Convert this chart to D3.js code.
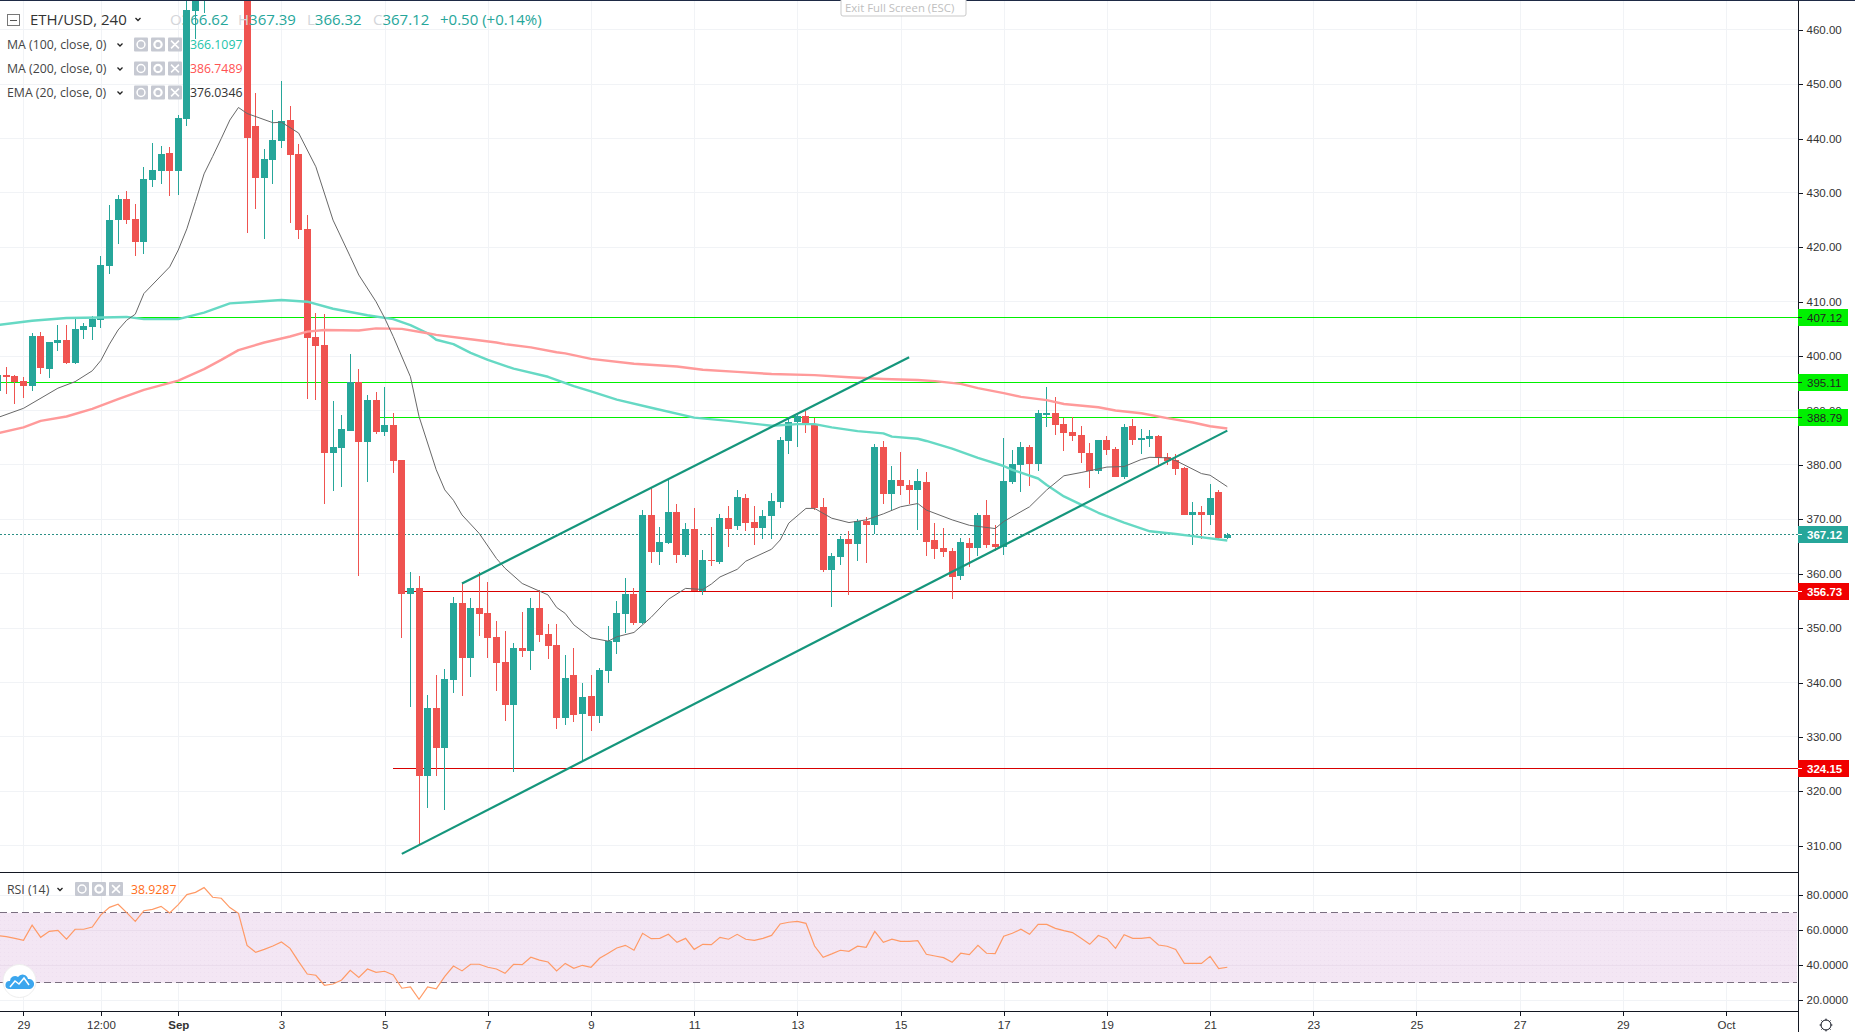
<!DOCTYPE html>
<html><head><meta charset="utf-8">
<script src="https://cdn.jsdelivr.net/npm/d3@7/dist/d3.min.js"></script>
<style>
html,body{margin:0;padding:0;background:#fff;overflow:hidden}
svg{display:block}
text{font-family:"Liberation Sans",Arial,sans-serif}
.lg{font-family:"Open Sans","DejaVu Sans",sans-serif}
</style></head><body>
<svg id="c" width="1855" height="1032"></svg>
<script>
const open=[393.6,396.5,396.3,395.4,394.5,403.7,397.6,402.4,403.0,398.7,
404.8,405.3,406.6,416.6,425.0,428.9,425.2,421.0,432.4,434.0,
437.3,434.0,443.6,463.4,469,473,476,479,477,472,
442.3,432.7,436.1,439.6,443.4,437.2,423.4,403.5,402.1,382.2,
383.1,386.2,395.2,384.2,391.9,386.0,387.3,380.9,356.3,357.4,
322.8,335.3,328.0,340.4,354.6,344.5,353.7,352.8,348.4,343.8,
335.9,346.3,345.8,353.7,348.9,346.9,333.5,341.4,334.2,337.5,
333.8,342.1,347.5,352.6,356.3,351.0,370.8,364.0,365.6,371.3,
363.4,368.2,356.8,362.5,362.2,370.2,368.8,373.9,369.5,368.4,
370.6,373.2,384.4,387.9,389.0,387.5,372.3,360.7,363.1,366.4,
365.5,369.7,369.0,383.3,374.6,377.2,376.3,375.4,376.8,366.2,
364.7,364.2,359.6,365.6,364.7,370.8,365.5,364.9,376.9,380.0,
383.3,380.2,389.2,389.5,387.5,386.0,385.5,382.2,378.9,384.6,
382.9,377.8,387.1,384.6,384.8,385.3,381.5,380.9,379.4,370.8,
371.3,370.8,375.0,366.62];
const high=[397.5,398.0,396.5,396.1,404.2,404.4,402.6,405.7,405.7,407.1,
406.1,407.3,418.4,427.8,429.6,430.4,428.0,434.8,439.2,438.6,
438.5,444.3,468,472,475,478,482,483,480,474,
448.4,438.1,445.2,450.6,446.0,439.0,425.9,407.9,407.8,391.7,
389.2,400.4,397.6,392.8,393.4,394.3,389.5,380.9,360.3,359.6,
337.7,341.4,342.5,355.7,358.5,355.5,360.3,358.5,351.3,349.5,
347.3,353.0,355.5,357.0,350.8,350.8,345.1,346.3,339.9,341.4,
342.7,350.4,355.0,359.2,357.4,371.7,376.0,368.6,377.4,372.8,
369.3,372.1,364.4,368.6,371.0,372.4,375.4,374.7,372.4,371.7,
374.8,385.1,388.4,389.5,389.9,388.6,373.9,363.8,366.9,367.9,
370.1,370.4,383.8,384.4,379.8,382.4,377.2,379.2,378.7,369.3,
368.4,364.7,366.6,366.5,371.2,373.5,369.0,384.9,382.7,384.2,
383.6,390.1,394.3,392.5,388.6,388.8,387.1,384.0,384.6,385.3,
383.3,387.5,388.4,386.6,386.4,385.5,382.2,382.0,379.6,373.2,
372.4,376.5,375.4,367.39];
const low=[393.0,393.0,391.2,392.3,393.6,396.7,396.0,400.9,398.5,398.5,
403.1,403.0,405.2,415.1,420.6,424.3,418.4,418.8,431.1,431.6,
429.4,429.6,442.3,458.3,463.0,470,473,475,471,422.6,
427.0,421.5,431.6,438.3,424.5,421.5,392.1,391.9,372.8,375.2,
375.9,386.2,359.6,376.8,385.7,385.3,378.5,348.2,335.5,310.1,
316.9,322.8,316.6,338.1,337.5,341.0,348.6,344.5,338.4,332.9,
323.6,344.7,342.3,347.4,344.3,331.5,332.2,332.8,325.6,331.1,
332.6,339.9,345.2,349.1,350.6,350.8,362.0,361.6,365.5,362.0,
363.1,356.8,356.1,361.4,361.8,364.9,368.0,367.9,365.3,366.4,
366.4,372.1,382.0,383.3,385.9,371.7,360.3,353.9,361.6,356.1,
362.3,362.0,367.3,372.8,371.7,374.5,372.8,368.0,363.2,362.7,
363.1,355.3,358.8,361.2,363.2,364.7,364.2,363.4,376.5,375.0,
376.1,378.9,387.0,385.5,382.5,384.4,380.3,375.7,378.3,381.8,
377.8,377.4,383.6,382.0,383.3,379.8,380.0,378.1,370.8,365.3,
366.4,369.0,366.4,366.32];
const close=[396.5,396.1,395.2,394.5,403.7,397.8,402.6,403.0,398.7,405.0,
405.5,406.8,416.7,425.0,428.9,425.0,421.0,432.6,434.2,437.2,
434.0,443.8,463.6,469,473,476,479,477,474,440.1,
432.7,436.2,439.7,443.2,437.0,423.2,403.3,401.9,382.2,383.3,
386.6,395.2,384.2,391.9,386.0,387.3,380.7,356.3,357.4,322.8,
335.3,328.0,340.6,354.6,344.5,353.7,352.6,348.2,343.6,335.9,
346.3,345.8,353.7,348.7,346.7,333.5,340.8,334.0,337.3,333.8,
342.3,347.6,352.8,356.3,351.0,370.8,364.0,365.8,371.3,363.4,
368.2,356.8,362.5,362.3,370.2,368.2,374.1,369.3,368.4,370.6,
373.4,384.6,387.9,389.0,387.5,372.1,360.7,363.3,366.4,365.5,
369.7,369.0,383.3,374.6,377.2,376.1,375.4,377.0,365.8,364.5,
364.0,359.4,365.8,364.7,370.8,365.3,364.9,377.0,380.2,383.3,
380.2,389.5,389.5,387.3,385.9,385.3,382.2,378.9,384.6,382.7,
377.8,387.0,384.6,384.9,385.3,381.3,380.7,379.2,370.8,371.3,
370.8,373.9,366.6,367.12];

const ma100Bars=[0,4,8,12,15,17,21,24,27,30,33,36,39,41,43,46,48,50,51,53,
55,57,60,64,67,69,72,76,81,85,90,93,95,97,100,103,104,107,108,111,114,117,118,121,122,124,126,128,131,134,137,139,143];
const ma100=[405.7,406.5,407.0,407.1,407.2,406.8,406.8,408.0,409.7,410.0,410.3,410.0,408.7,408.1,407.5,406.8,405.7,404.2,403.0,402.2,
400.6,399.3,397.7,396.2,394.5,393.5,392.0,390.5,388.7,388.1,387.2,387.5,387.5,386.9,386.2,385.8,385.2,384.8,384.4,383.0,381.3,379.8,379.1,377.5,376.3,374.2,372.7,371.2,369.4,367.8,367.3,366.9,366.1];
const ma200Bars=[0,3,5,8,11,14,17,21,24,26,28,31,34,36,38,42,44,47,50,51,
55,58,59,62,65,66,69,74,79,82,86,90,95,99,103,107,109,112,114,117,119,122,124,128,130,133,136,139,141,143];
const ma200=[385.8,386.9,388.1,388.9,390.3,392.1,393.8,395.5,397.6,399.3,401.1,402.5,403.6,404.5,404.8,404.7,405.1,405.0,404.2,403.9,
403.1,402.5,402.2,401.6,400.7,400.5,399.5,398.6,398.1,397.5,397.1,396.7,396.5,396.1,395.8,395.6,395.4,394.9,394.1,393.2,392.5,391.9,391.2,390.6,390.0,389.5,388.6,387.8,387.1,386.7];
const emaBars=[0,3,7,9,11,12,13,14,15,16,17,20,21,22,23,24,25,26,27,28,29,32,33,35,37,39,41,42,44,45,46,48,49,51,52,53,54,
56,58,59,61,64,65,66,67,69,71,72,74,76,78,80,82,83,84,86,87,90,91,92,94,95,97,99,101,103,105,107,108,111,113,116,117,119,120,122,124,126,129,131,133,134,136,137,140,141,143];
const ema=[388.7,390.4,394.1,395.3,397.3,399.2,402.2,404.8,406.6,407.7,411.5,416.4,419.5,423.4,428.4,433.5,436.7,440.0,443.4,445.7,444.6,442.9,443.0,441.0,434.8,425.0,418.3,414.9,410.0,407.0,403.6,396.2,388.9,379.1,375.4,373.5,370.8,
367.4,362.8,361.0,358.2,356.1,353.8,352.7,350.6,348.2,347.6,348.4,349.2,352.0,355.3,357.3,357.1,358.1,359.4,360.8,362.3,364.5,366.2,369.3,372.0,372.0,370.2,369.4,369.9,371.0,372.3,372.9,371.7,369.9,368.9,368.3,369.6,371.4,372.3,375.4,378.0,378.6,379.6,379.7,381.0,381.4,381.3,380.8,378.4,378.1,376.0];
const rsi=[57.0,56.4,55.4,54.3,62.9,56.0,59.4,60.0,54.9,60.6,60.6,61.9,68.8,73.1,74.9,70.1,65.1,71.2,72.0,73.7,69.9,74.7,80.4,81.7,84.4,78.9,78.3,73.0,69.7,51.4,47.4,49.1,51.0,53.3,49.7,42.1,35.0,34.3,28.6,29.3,31.6,37.1,33.1,37.9,36.0,36.6,34.5,26.9,27.6,20.6,27.6,26.5,33.7,39.6,36.8,40.6,40.6,38.9,37.9,35.4,40.6,40.4,44.6,43.0,41.9,36.8,41.1,38.3,40.0,38.9,44.0,46.9,49.9,51.4,48.6,58.3,55.2,55.4,57.7,53.1,55.4,49.1,52.0,51.8,56.0,54.9,57.7,54.9,54.3,55.4,57.1,63.6,64.6,65.1,64.0,51.0,44.6,46.5,48.6,48.0,50.9,50.3,59.4,53.1,54.9,53.7,53.7,54.1,46.3,45.3,44.4,41.7,46.9,46.1,51.4,46.9,46.7,56.6,58.3,60.6,57.7,63.4,63.4,61.1,59.8,58.7,55.4,52.0,57.0,55.2,49.7,57.5,55.4,55.4,56.0,51.6,50.9,49.1,41.1,41.1,41.1,45.1,38.1,38.9];

const upperBars=[54,106], upperPrices=[358.2,399.8];
const lowerBars=[47,143], lowerPrices=[308.5,386.3];
const greenLevels=[407.12,395.11,388.79], greenStarts=[8,0,44];
const redLevels=[356.73,324.15], redStarts=[47,46];
const lastPrice=367.12;
const priceTicks=d3.range(310,461,10);
const rsiTicks=[20,40,60,80];
const timeBars=[3,12,21,33,45,57,69,81,93,105,117,129,141,153,165,177,189,201];
const timeLabels=["29","12:00","Sep","3","5","7","9","11","13","15","17","19","21","23","25","27","29","Oct"];
const legendRows=[["MA (100, close, 0)","366.1097","#22c4ab"],["MA (200, close, 0)","386.7489","#ff5252"],["EMA (20, close, 0)","376.0346","#333"]];

const W=1855,AX=1798,PB=872,RT=873,RB=1011;
const x=d3.scaleLinear().domain([1,143]).range([6.3,1227.3]);
const y=d3.scaleLinear().domain([410,360]).range([301.7,573.7]);
const yr=d3.scaleLinear().domain([80,20]).range([895.3,1000.3]);
const UP="#26a69a",DN="#ef5350",GRID="#f1f3f6";
const px=v=>Math.floor(v)+.5;
const svg=d3.select("#c");
const defs=svg.append("defs");
defs.append("clipPath").attr("id","pm").append("rect").attr("width",AX).attr("height",PB);
defs.append("clipPath").attr("id","pr").append("rect").attr("y",RT).attr("width",AX).attr("height",RB-RT);
const pat=defs.append("pattern").attr("id","dots").attr("width",4).attr("height",4).attr("patternUnits","userSpaceOnUse");
pat.append("rect").attr("width",4).attr("height",4).attr("fill","#f3e6f4");
pat.append("rect").attr("width",1).attr("height",1).attr("fill","#eedff0");

// grid
const g=svg.append("g").attr("shape-rendering","crispEdges").attr("stroke",GRID);
g.selectAll(".v").data(timeBars).join("line").attr("x1",d=>Math.round(x(d))+.5).attr("x2",d=>Math.round(x(d))+.5).attr("y1",0).attr("y2",RB);
g.selectAll(".h").data(priceTicks).join("line").attr("x1",0).attr("x2",AX).attr("y1",d=>px(y(d))).attr("y2",d=>px(y(d)));

// rsi band under its own grid
svg.append("rect").attr("x",0).attr("width",AX-1).attr("y",yr(70)).attr("height",yr(30)-yr(70)).attr("fill","url(#dots)");
const g2=svg.append("g").attr("shape-rendering","crispEdges");
g2.selectAll("line").data(rsiTicks).join("line").attr("x1",0).attr("x2",AX).attr("y1",d=>px(yr(d))).attr("y2",d=>px(yr(d)))
  .attr("stroke",d=>(d==40||d==60)?"#eadcec":GRID);
g2.selectAll(".d").data([70,30]).join("line").attr("x1",0).attr("x2",AX-1).attr("y1",d=>px(yr(d))).attr("y2",d=>px(yr(d)))
  .attr("stroke","#7a6f80").attr("stroke-dasharray","7 4");

const main=svg.append("g").attr("clip-path","url(#pm)");
// levels
const hl=main.append("g").attr("shape-rendering","crispEdges");
hl.selectAll(".gl").data(d3.zip(greenLevels,greenStarts)).join("line").attr("x1",d=>x(d[1])).attr("x2",AX)
  .attr("y1",d=>px(y(d[0]))).attr("y2",d=>px(y(d[0]))).attr("stroke","#00f000").attr("stroke-width",1);
hl.selectAll(".rl").data(d3.zip(redLevels,redStarts)).join("line").attr("x1",d=>x(d[1])).attr("x2",AX)
  .attr("y1",d=>px(y(d[0]))).attr("y2",d=>px(y(d[0]))).attr("stroke","#d80000").attr("stroke-width",1);
hl.append("line").attr("x1",0).attr("x2",AX).attr("y1",px(y(lastPrice))).attr("y2",px(y(lastPrice)))
  .attr("stroke","#2a8f85").attr("stroke-dasharray","2 2");

// candles
const idx=d3.range(open.length);
const col=i=>close[i]>=open[i]?UP:DN;
const cg=main.append("g").attr("shape-rendering","crispEdges");
cg.selectAll(".w").data(idx).join("rect").attr("x",i=>Math.round(x(i)-.5)).attr("width",1)
  .attr("y",i=>Math.round(y(high[i]))).attr("height",i=>Math.round(y(low[i]))-Math.round(y(high[i]))).attr("fill",col);
cg.selectAll(".b").data(idx).join("rect").attr("x",i=>Math.round(x(i)-3.5)).attr("width",7)
  .attr("y",i=>Math.round(y(Math.max(open[i],close[i]))))
  .attr("height",i=>Math.max(1,Math.round(y(Math.min(open[i],close[i])))-Math.round(y(Math.max(open[i],close[i]))))).attr("fill",col);

// moving averages
const ln=d3.line().x(d=>x(d[0])).y(d=>y(d[1]));
const lines=main.append("g").attr("fill","none").attr("stroke-linejoin","round");
lines.append("path").attr("d",ln(d3.zip(ma100Bars,ma100))).attr("stroke","#66d9c4").attr("stroke-width",2.4);
lines.append("path").attr("d",ln(d3.zip(ma200Bars,ma200))).attr("stroke","#ff9a9a").attr("stroke-width",2.4);
lines.append("path").attr("d",ln(d3.zip(emaBars,ema))).attr("stroke","#686868").attr("stroke-width",1);
lines.append("path").attr("d",ln(d3.zip(upperBars,upperPrices))).attr("stroke","#15967c").attr("stroke-width",2.2);
lines.append("path").attr("d",ln(d3.zip(lowerBars,lowerPrices))).attr("stroke","#15967c").attr("stroke-width",2.2);

// rsi line
svg.append("g").attr("clip-path","url(#pr)").append("path")
  .attr("d",d3.line().x((d,i)=>x(i)).y(d=>yr(d))(rsi)).attr("fill","none").attr("stroke","#ff9a66").attr("stroke-width",1.2);

// frame
const fr=svg.append("g").attr("shape-rendering","crispEdges").attr("stroke","#131722");
fr.append("line").attr("x1",0).attr("x2",W).attr("y1",.5).attr("y2",.5).attr("stroke","#1e2a45");
fr.append("line").attr("x1",AX+.5).attr("x2",AX+.5).attr("y1",0).attr("y2",1032);
fr.append("line").attr("x1",0).attr("x2",AX).attr("y1",PB+.5).attr("y2",PB+.5);
fr.append("line").attr("x1",0).attr("x2",AX).attr("y1",RB+.5).attr("y2",RB+.5);

// axes
function styleAxis(s){s.select(".domain").remove();
  s.selectAll("line").attr("stroke","#131722").attr("shape-rendering","crispEdges");
  s.selectAll("text").attr("fill","#333").style("font-size","11.5px").style("font-family",'"Liberation Sans",Arial,sans-serif');}
svg.append("g").attr("transform",`translate(${AX+.5},0)`)
  .call(d3.axisRight(y).tickValues(priceTicks).tickFormat(d3.format(".2f")).tickSize(4).tickPadding(4)).call(styleAxis);
svg.append("g").attr("transform",`translate(${AX+.5},0)`)
  .call(d3.axisRight(yr).tickValues(rsiTicks).tickFormat(d3.format(".4f")).tickSize(4).tickPadding(4)).call(styleAxis);
svg.append("g").attr("transform",`translate(0,${RB+.5})`)
  .call(d3.axisBottom(x).tickValues(timeBars).tickFormat((d,i)=>timeLabels[i]).tickSize(4).tickPadding(5)).call(styleAxis)
  .selectAll("text").attr("font-weight",(d,i)=>timeLabels[i]=="Sep"?"bold":null);

// price badges
const badges=[[407.12,"#00f000","#222"],[395.11,"#00f000","#222"],[388.79,"#00f000","#222"],[lastPrice,UP,"#fff"],[356.73,"#f00000","#fff"],[324.15,"#f00000","#fff"]];
const bg=svg.append("g").selectAll("g").data(badges).join("g").attr("transform",d=>`translate(${AX},${Math.floor(y(d[0]))})`);
bg.append("rect").attr("y",-8).attr("width",d=>d[1]=="#f00000"?51:50).attr("height",17).attr("fill",d=>d[1]).attr("shape-rendering","crispEdges");
bg.append("line").attr("x1",0).attr("x2",4).attr("y1",.5).attr("y2",.5).attr("stroke",d=>d[2]).attr("shape-rendering","crispEdges");
bg.append("text").text(d=>d[0].toFixed(2)).attr("x",9).attr("y",4.5).attr("fill",d=>d[2]).attr("font-size","11.5px").attr("font-weight",d=>d[2]=="#fff"?"bold":null);

// legend
const lg=svg.append("g").attr("class","legend");
lg.append("rect").attr("x",7.5).attr("y",14.5).attr("width",12).attr("height",11).attr("fill","none").attr("stroke","#777");
lg.append("line").attr("x1",10).attr("x2",17).attr("y1",20.5).attr("y2",20.5).attr("stroke","#555");
lg.append("text").text("ETH/USD, 240").attr("class","lg").attr("x",30).attr("y",25).attr("font-size","15px").attr("fill","#333");
chev(lg,138,18,5);
const ohlc=[["O","366.62",170],["H","367.39",238],["L","366.32",307],["C","367.12",373]];
ohlc.forEach(d=>{
  const t=lg.append("text").attr("class","lg").attr("x",d[2]).attr("y",25).attr("font-size","15px");
  t.append("tspan").text(d[0]).attr("fill","#d4d6da");
  t.append("tspan").text(d[1]).attr("fill",UP);
});
lg.append("text").text("+0.50 (+0.14%)").attr("class","lg").attr("x",440).attr("y",25).attr("font-size","15px").attr("fill",UP);
function chev(p,cx,cy,w){p.append("path").attr("d",`M${cx-w/2},${cy}l${w/2},${w/2}l${w/2},${-w/2}`).attr("fill","none").attr("stroke","#222").attr("stroke-width",1.3);}
function icons(p,x0,cy,step,s){
  [0,1,2].forEach(k=>{
    const gx=x0+k*step;
    p.append("rect").attr("x",gx).attr("y",cy-s/2).attr("width",s).attr("height",s).attr("rx",1).attr("fill","#c6c9d2");
    const c=gx+s/2;
    if(k==0){p.append("circle").attr("cx",c).attr("cy",cy).attr("r",s*.28).attr("fill","none").attr("stroke","#fff").attr("stroke-width",1.5);}
    if(k==1){p.append("circle").attr("cx",c).attr("cy",cy).attr("r",s*.26).attr("fill","none").attr("stroke","#fff").attr("stroke-width",2.2);}
    if(k==2){p.append("path").attr("d",`M${c-s*.28},${cy-s*.28}L${c+s*.28},${cy+s*.28}M${c+s*.28},${cy-s*.28}L${c-s*.28},${cy+s*.28}`).attr("stroke","#fff").attr("stroke-width",1.6);}
  });
}
legendRows.forEach((r,k)=>{
  const cy=44.5+24*k;
  lg.append("text").text(r[0]).attr("class","lg").attr("x",7).attr("y",cy+4.5).attr("font-size","12.3px").attr("fill","#444");
  chev(lg,120,cy-1,5);
  icons(lg,134,cy,17,14);
  lg.append("text").text(r[1]).attr("class","lg").attr("x",190).attr("y",cy+4.5).attr("font-size","12.3px").attr("fill",r[2]);
});
lg.append("text").text("RSI (14)").attr("class","lg").attr("x",7).attr("y",893.5).attr("font-size","12.3px").attr("fill","#444");
chev(lg,60,888,5);
icons(lg,75,889,17,14);
lg.append("text").text("38.9287").attr("class","lg").attr("x",131).attr("y",893.5).attr("font-size","12.3px").attr("fill","#ff6d1a");

// exit full screen notice
const ex=svg.append("g");
ex.append("rect").attr("x",841).attr("y",-2).attr("width",125).attr("height",18).attr("rx",2).attr("fill","#fff").attr("stroke","#c9c9c9");
ex.append("text").text("Exit Full Screen (ESC)").attr("class","lg").attr("x",845).attr("y",12).attr("font-size","11.4px").attr("fill","#c0c0c0");

// logo
const lo=svg.append("g");
lo.append("circle").attr("cx",19.5).attr("cy",981).attr("r",16.5).attr("fill","#fff").attr("stroke","#eee");
lo.append("path").attr("d","M9,989 a4,4 0 0 1 1,-8 a5,5 0 0 1 8,-4 a5.5,5.5 0 0 1 10,2 a5,5 0 0 1 2,10 z").attr("fill","#3ba6ee");
lo.append("path").attr("d","M10,987 l5,-6 l4,3 l5,-6 l5,7").attr("fill","none").attr("stroke","#fff").attr("stroke-width",1.5);

// settings icon
const gear=svg.append("g").attr("transform","translate(1826,1025)").attr("stroke","#131722").attr("fill","none");
gear.append("circle").attr("r",5).attr("stroke-width",1);
gear.selectAll("line").data(d3.range(8)).join("line").attr("x1",d=>4.6*Math.cos(d*Math.PI/4)).attr("y1",d=>4.6*Math.sin(d*Math.PI/4))
  .attr("x2",d=>6.4*Math.cos(d*Math.PI/4)).attr("y2",d=>6.4*Math.sin(d*Math.PI/4)).attr("stroke-width",1);
</script>
</body></html>
